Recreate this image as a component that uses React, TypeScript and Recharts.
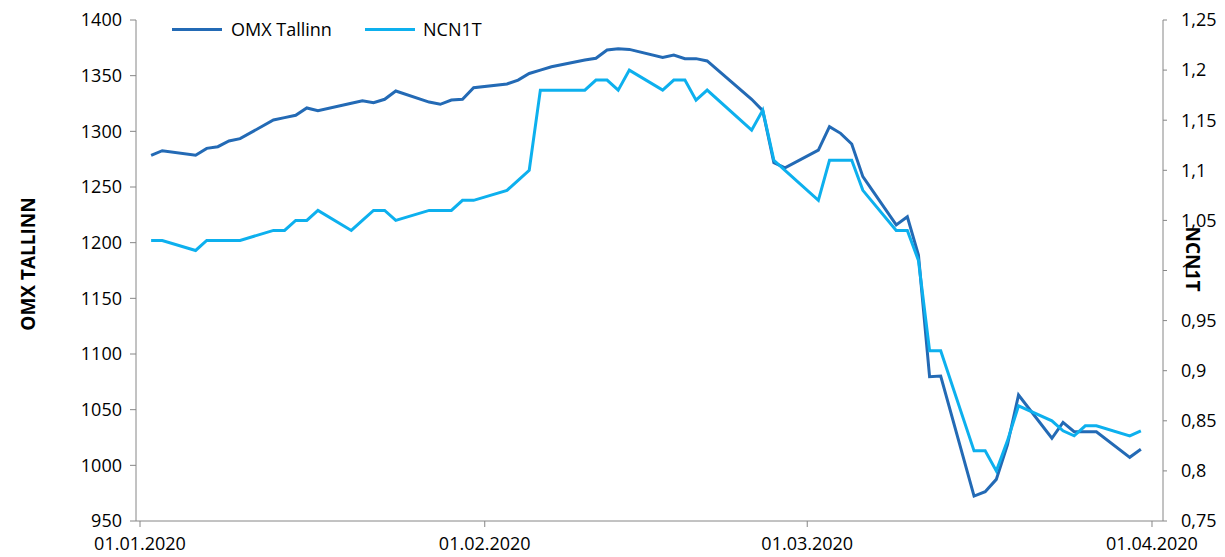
import { CartesianGrid, Line, LineChart, XAxis, YAxis } from "recharts";

const dates = [
	"02.01.2020", "03.01.2020", "06.01.2020", "07.01.2020", "08.01.2020", "09.01.2020", "10.01.2020",
	"13.01.2020", "14.01.2020", "15.01.2020", "16.01.2020", "17.01.2020", "20.01.2020", "21.01.2020",
	"22.01.2020", "23.01.2020", "24.01.2020", "27.01.2020", "28.01.2020", "29.01.2020", "30.01.2020",
	"31.01.2020", "03.02.2020", "04.02.2020", "05.02.2020", "06.02.2020", "07.02.2020", "10.02.2020",
	"11.02.2020", "12.02.2020", "13.02.2020", "14.02.2020", "17.02.2020", "18.02.2020", "19.02.2020",
	"20.02.2020", "21.02.2020", "25.02.2020", "26.02.2020", "27.02.2020", "28.02.2020", "02.03.2020",
	"03.03.2020", "04.03.2020", "05.03.2020", "06.03.2020", "09.03.2020", "10.03.2020", "11.03.2020",
	"12.03.2020", "13.03.2020", "16.03.2020", "17.03.2020", "18.03.2020", "19.03.2020", "20.03.2020",
	"23.03.2020", "24.03.2020", "25.03.2020", "26.03.2020", "27.03.2020", "30.03.2020", "31.03.2020",
];

const omxTallinn = [
	1278.5, 1282.6, 1278.5, 1284.7, 1286.2, 1291.3, 1293.4,
	1310.2, 1312.3, 1314.4, 1321.0, 1318.5, 1325.2, 1327.5,
	1325.7, 1328.8, 1336.2, 1326.3, 1324.3, 1328.1, 1328.8,
	1339.2, 1342.5, 1346.0, 1352.0, 1355.0, 1358.0, 1364.0,
	1365.6, 1373.0, 1374.2, 1373.6, 1366.3, 1368.6, 1365.3,
	1365.3, 1363.2, 1328.8, 1318.5, 1271.8, 1267.2, 1283.2,
	1304.2, 1298.2, 1288.6, 1259.3, 1215.9, 1223.3, 1188.9,
	1079.6, 1080.2, 972.4, 976.3, 987.4, 1018.3, 1063.2,
	1024.3, 1038.6, 1030.2, 1030.2, 1030.2, 1007.2, 1014.4,
];

const ncn1t = [
	1.03, 1.03, 1.02, 1.03, 1.03, 1.03, 1.03,
	1.04, 1.04, 1.05, 1.05, 1.06, 1.04, 1.05,
	1.06, 1.06, 1.05, 1.06, 1.06, 1.06, 1.07,
	1.07, 1.08, 1.09, 1.1, 1.18, 1.18, 1.18,
	1.19, 1.19, 1.18, 1.2, 1.18, 1.19, 1.19,
	1.17, 1.18, 1.14, 1.16, 1.11, 1.1, 1.07,
	1.11, 1.11, 1.11, 1.08, 1.04, 1.04, 1.01,
	0.92, 0.92, 0.82, 0.82, 0.8, 0.83, 0.865,
	0.85, 0.84, 0.835, 0.845, 0.845, 0.835, 0.84,
];

const xTickLabels = ["01.01.2020", "01.02.2020", "01.03.2020", "01.04.2020"];
const leftTicks = [950, 1000, 1050, 1100, 1150, 1200, 1250, 1300, 1350, 1400];
const rightTicks = [0.75, 0.8, 0.85, 0.9, 0.95, 1, 1.05, 1.1, 1.15, 1.2, 1.25];

const DAY = 86400000;
const parseDate = (s: string) => {
	const [d, m, y] = s.split(".").map(Number);
	return Date.UTC(y, m - 1, d);
};
const fmtDate = (t: number) => {
	const d = new Date(t);
	const p = (n: number) => String(n).padStart(2, "0");
	return `${p(d.getUTCDate())}.${p(d.getUTCMonth() + 1)}.${d.getUTCFullYear()}`;
};

const data = dates.map((s, i) => ({ t: parseDate(s), omx: omxTallinn[i], ncn: ncn1t[i] }));
const xTicks = xTickLabels.map(parseDate);
const xDomain = [xTicks[0] - 0.36 * DAY, xTicks[3] + 0.99 * DAY];

const DARK = "#236AB5";
const LIGHT = "#0DB0EE";
const AXIS = "#868686";
const FONT = "'Open Sans', sans-serif";
const tickStyle = { fill: "#000", fontSize: 18, fontFamily: FONT };

export default function App() {
	return (
		<div style={{ position: "absolute", left: 0, top: 0, width: 1225, height: 557, background: "#fff", fontFamily: FONT }}>
			<LineChart width={1225} height={557} data={data} margin={{ top: 20, right: 0, bottom: 0, left: 0 }}>
				<CartesianGrid stroke="none" />
				<XAxis
					dataKey="t"
					type="number"
					domain={xDomain}
					ticks={xTicks}
					tickFormatter={fmtDate}
					height={36}
					stroke={AXIS}
					tick={tickStyle}
					tickSize={6}
					tickMargin={10}
					allowDataOverflow
				/>
				<YAxis
					yAxisId="left"
					domain={[950, 1400]}
					ticks={leftTicks}
					width={136}
					stroke={AXIS}
					tick={tickStyle}
					tickSize={6}
					tickMargin={8}
					allowDataOverflow
				/>
				<YAxis
					yAxisId="right"
					orientation="right"
					domain={[0.75, 1.25]}
					ticks={rightTicks}
					tickFormatter={(v: number) => String(Number(v.toFixed(2))).replace(".", ",")}
					width={62}
					stroke={AXIS}
					tick={{ ...tickStyle, textAnchor: "start" }}
					tickSize={4}
					tickMargin={14}
					allowDataOverflow
				/>
				<Line yAxisId="left" dataKey="omx" type="linear" stroke={DARK} strokeWidth={3} dot={false} isAnimationActive={false} />
				<Line yAxisId="right" dataKey="ncn" type="linear" stroke={LIGHT} strokeWidth={3} dot={false} isAnimationActive={false} />
			</LineChart>

			{/* legend */}
			<div style={{ position: "absolute", left: 172, top: 16, display: "flex", alignItems: "center", fontSize: 18, color: "#000", lineHeight: "26px" }}>
				<span style={{ display: "inline-block", width: 50, height: 3, background: DARK }} />
				<span style={{ marginLeft: 9, width: 134 }}>OMX Tallinn</span>
				<span style={{ display: "inline-block", width: 50, height: 3, background: LIGHT }} />
				<span style={{ marginLeft: 8 }}>NCN1T</span>
			</div>

			{/* axis titles */}
			<div style={{ position: "absolute", left: 28, top: 264, transform: "translate(-50%, -50%) rotate(-90deg)", fontSize: 19, fontWeight: 700, whiteSpace: "nowrap", color: "#000" }}>
				OMX TALLINN
			</div>
			<div style={{ position: "absolute", left: 1193, top: 259, transform: "translate(-50%, -50%) rotate(90deg)", fontSize: 19, fontWeight: 700, whiteSpace: "nowrap", color: "#000" }}>
				NCN1T
			</div>
		</div>
	);
}
